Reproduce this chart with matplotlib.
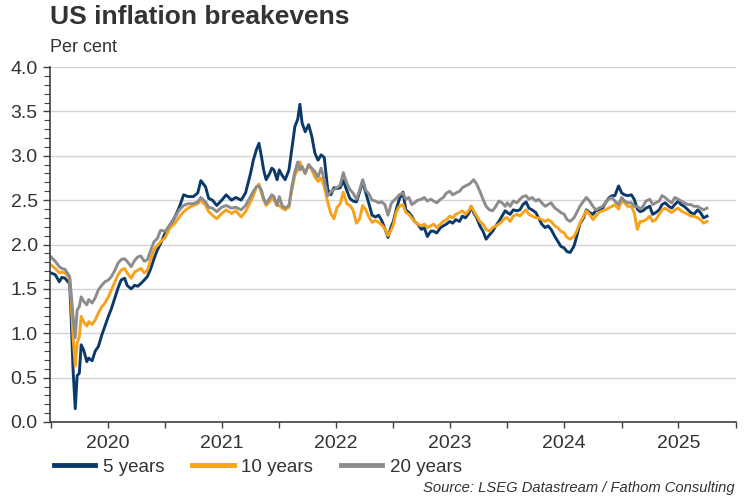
import matplotlib
matplotlib.use("Agg")
import matplotlib.pyplot as plt
from matplotlib.ticker import MultipleLocator, NullFormatter, FixedLocator, FixedFormatter, FormatStrFormatter
import matplotlib.dates as mdates
import pandas as pd

plt.rcParams['font.family'] = ['Liberation Sans', 'DejaVu Sans']

dates_2020 = ["2020-01-01", "2020-01-15", "2020-01-28", "2020-02-05", "2020-02-15", "2020-03-01",
              "2020-03-05", "2020-03-12", "2020-03-19", "2020-03-25", "2020-04-01", "2020-04-07",
              "2020-04-15", "2020-04-25", "2020-05-01", "2020-05-12", "2020-05-22", "2020-06-01",
              "2020-06-12", "2020-06-22", "2020-07-03", "2020-07-13", "2020-07-24", "2020-08-03",
              "2020-08-13", "2020-08-24", "2020-09-01", "2020-09-14", "2020-09-25", "2020-10-05",
              "2020-10-15", "2020-10-26", "2020-11-05", "2020-11-16", "2020-11-26", "2020-12-07",
              "2020-12-17"]
dates_2021 = ["2021-01-01", "2021-01-15", "2021-02-01", "2021-02-15", "2021-03-01", "2021-03-15",
              "2021-04-01", "2021-04-15", "2021-04-25", "2021-05-10", "2021-05-20", "2021-06-01",
              "2021-06-15", "2021-07-01", "2021-07-15", "2021-08-01", "2021-08-15", "2021-09-01",
              "2021-09-15", "2021-10-01", "2021-10-10", "2021-10-20", "2021-10-28", "2021-11-05",
              "2021-11-12", "2021-11-20", "2021-12-01", "2021-12-08", "2021-12-15", "2021-12-25"]
dates_2022 = ["2022-01-01", "2022-01-10", "2022-01-20", "2022-02-01", "2022-02-10", "2022-02-20",
              "2022-03-01", "2022-03-08", "2022-03-15", "2022-03-25", "2022-04-05", "2022-04-15",
              "2022-04-25", "2022-05-05", "2022-05-15", "2022-05-25", "2022-06-05", "2022-06-15",
              "2022-06-25", "2022-07-05", "2022-07-15", "2022-07-25", "2022-08-05", "2022-08-15",
              "2022-08-25", "2022-09-05", "2022-09-15", "2022-09-25", "2022-10-05", "2022-10-15",
              "2022-10-25", "2022-11-05", "2022-11-15", "2022-11-25", "2022-12-05", "2022-12-15",
              "2022-12-25"]
dates_2023 = ["2023-01-01", "2023-01-10", "2023-01-20", "2023-02-01", "2023-02-10", "2023-02-20",
              "2023-03-01", "2023-03-10", "2023-03-20", "2023-04-01", "2023-04-10", "2023-04-20",
              "2023-05-01", "2023-05-10", "2023-05-20", "2023-06-01", "2023-06-10", "2023-06-20",
              "2023-07-01", "2023-07-10", "2023-07-20", "2023-08-01", "2023-08-10", "2023-08-20",
              "2023-09-01", "2023-09-07", "2023-09-15", "2023-09-25", "2023-10-05", "2023-10-15",
              "2023-10-25", "2023-11-05", "2023-11-15", "2023-11-25", "2023-12-05", "2023-12-15",
              "2023-12-25"]
dates_2024 = ["2024-01-01", "2024-01-10", "2024-01-20", "2024-02-01", "2024-02-10", "2024-02-20",
              "2024-03-01", "2024-03-10", "2024-03-20", "2024-04-01", "2024-04-10", "2024-04-20",
              "2024-05-01", "2024-05-10", "2024-05-20", "2024-06-01", "2024-06-10", "2024-06-20",
              "2024-07-01", "2024-07-10", "2024-07-20", "2024-08-01", "2024-08-10", "2024-08-20",
              "2024-09-01", "2024-09-10", "2024-09-20", "2024-10-01", "2024-10-10", "2024-10-20",
              "2024-11-01", "2024-11-10", "2024-11-20", "2024-12-01", "2024-12-10", "2024-12-22"]
dates_2025 = ["2025-01-01", "2025-01-10", "2025-01-20", "2025-02-01", "2025-02-10", "2025-02-20",
              "2025-03-01", "2025-03-10", "2025-03-20", "2025-04-01", "2025-04-10", "2025-04-20",
              "2025-05-01", "2025-05-10", "2025-05-20", "2025-06-01", "2025-06-10", "2025-06-20",
              "2025-07-01", "2025-07-10", "2025-07-20", "2025-08-01", "2025-08-10", "2025-08-20",
              "2025-09-01", "2025-09-10", "2025-09-20", "2025-10-01"]

five_years = [
    # 2020
    1.68, 1.66, 1.58, 1.63, 1.62, 1.56, 1.26, 0.59, 0.15, 0.52,
    0.55, 0.87, 0.81, 0.68, 0.72, 0.69, 0.80, 0.85, 0.98, 1.08,
    1.19, 1.28, 1.40, 1.51, 1.60, 1.62, 1.54, 1.50, 1.54, 1.53,
    1.56, 1.60, 1.64, 1.73, 1.84, 1.94, 2.01,
    # 2021
    2.13, 2.20, 2.31, 2.42, 2.56, 2.54, 2.54, 2.58, 2.72, 2.65,
    2.52, 2.50, 2.44, 2.50, 2.56, 2.50, 2.53, 2.50, 2.58, 2.80,
    2.95, 3.07, 3.14, 2.99, 2.84, 2.73, 2.80, 2.86, 2.84, 2.73,
    # 2022
    2.84, 2.78, 2.73, 2.84, 3.07, 3.33, 3.41, 3.58, 3.37, 3.27,
    3.35, 3.22, 3.03, 2.95, 3.01, 2.98, 2.62, 2.56, 2.64, 2.63,
    2.64, 2.72, 2.61, 2.52, 2.49, 2.48, 2.59, 2.71, 2.58, 2.46,
    2.33, 2.31, 2.33, 2.27, 2.18, 2.08, 2.20,
    # 2023
    2.26, 2.39, 2.51, 2.59, 2.39, 2.36, 2.32, 2.26, 2.23, 2.17,
    2.19, 2.09, 2.15, 2.15, 2.13, 2.19, 2.21, 2.23, 2.26, 2.24,
    2.28, 2.26, 2.32, 2.30, 2.36, 2.43, 2.36, 2.30, 2.21, 2.15,
    2.06, 2.11, 2.15, 2.21, 2.26, 2.32, 2.38,
    # 2024
    2.36, 2.34, 2.39, 2.38, 2.39, 2.45, 2.48, 2.41, 2.39, 2.36,
    2.30, 2.23, 2.19, 2.21, 2.17, 2.09, 2.04, 1.98, 1.96, 1.92,
    1.91, 1.98, 2.09, 2.23, 2.30, 2.39, 2.36, 2.34, 2.38, 2.39,
    2.41, 2.47, 2.52, 2.55, 2.55, 2.66,
    # 2025
    2.58, 2.56, 2.55, 2.56, 2.51, 2.40, 2.37, 2.38, 2.41, 2.43,
    2.34, 2.36, 2.39, 2.45, 2.47, 2.43, 2.41, 2.45, 2.49, 2.45,
    2.43, 2.39, 2.36, 2.34, 2.39, 2.36, 2.30, 2.32,
]

ten_years = [
    # 2020
    1.77, 1.73, 1.68, 1.69, 1.68, 1.62, 1.41, 0.96, 0.63, 0.89,
    0.96, 1.19, 1.13, 1.08, 1.13, 1.10, 1.15, 1.23, 1.30, 1.34,
    1.41, 1.49, 1.58, 1.66, 1.71, 1.73, 1.68, 1.62, 1.69, 1.71,
    1.73, 1.68, 1.71, 1.84, 1.94, 1.99, 2.03,
    # 2021
    2.08, 2.18, 2.24, 2.31, 2.37, 2.41, 2.44, 2.46, 2.50, 2.44,
    2.37, 2.33, 2.29, 2.35, 2.39, 2.35, 2.38, 2.31, 2.37, 2.48,
    2.55, 2.65, 2.68, 2.58, 2.50, 2.44, 2.48, 2.52, 2.50, 2.44,
    # 2022
    2.44, 2.41, 2.39, 2.42, 2.61, 2.78, 2.84, 2.93, 2.86, 2.80,
    2.90, 2.84, 2.76, 2.71, 2.75, 2.65, 2.48, 2.35, 2.29, 2.42,
    2.46, 2.59, 2.46, 2.44, 2.39, 2.24, 2.29, 2.44, 2.39, 2.31,
    2.25, 2.27, 2.25, 2.22, 2.18, 2.10, 2.16,
    # 2023
    2.22, 2.36, 2.43, 2.45, 2.36, 2.34, 2.30, 2.26, 2.23, 2.21,
    2.23, 2.19, 2.21, 2.23, 2.19, 2.23, 2.26, 2.28, 2.32, 2.30,
    2.34, 2.36, 2.38, 2.34, 2.39, 2.43, 2.38, 2.32, 2.26, 2.23,
    2.17, 2.15, 2.19, 2.21, 2.23, 2.26, 2.30,
    # 2024
    2.30, 2.26, 2.32, 2.34, 2.32, 2.36, 2.39, 2.34, 2.32, 2.30,
    2.30, 2.28, 2.26, 2.28, 2.26, 2.21, 2.19, 2.15, 2.13, 2.08,
    2.06, 2.09, 2.15, 2.24, 2.32, 2.38, 2.34, 2.28, 2.32, 2.36,
    2.38, 2.39, 2.41, 2.43, 2.45, 2.40,
    # 2025
    2.49, 2.47, 2.43, 2.43, 2.36, 2.17, 2.26, 2.26, 2.28, 2.32,
    2.26, 2.28, 2.34, 2.39, 2.41, 2.38, 2.36, 2.39, 2.41, 2.38,
    2.36, 2.34, 2.32, 2.32, 2.30, 2.28, 2.24, 2.26,
]

twenty_years = [
    # 2020
    1.86, 1.81, 1.75, 1.73, 1.72, 1.64, 1.49, 1.19, 0.95, 1.26,
    1.30, 1.41, 1.36, 1.32, 1.38, 1.34, 1.40, 1.49, 1.54, 1.58,
    1.60, 1.64, 1.71, 1.79, 1.83, 1.84, 1.81, 1.75, 1.82, 1.86,
    1.87, 1.81, 1.83, 1.94, 2.03, 2.07, 2.16,
    # 2021
    2.15, 2.22, 2.31, 2.39, 2.44, 2.46, 2.46, 2.48, 2.53, 2.48,
    2.42, 2.41, 2.37, 2.42, 2.44, 2.41, 2.42, 2.39, 2.44, 2.54,
    2.60, 2.65, 2.66, 2.61, 2.52, 2.46, 2.52, 2.56, 2.54, 2.44,
    # 2022
    2.54, 2.44, 2.41, 2.44, 2.65, 2.82, 2.93, 2.84, 2.88, 2.80,
    2.90, 2.86, 2.82, 2.76, 2.86, 2.73, 2.55, 2.59, 2.62, 2.64,
    2.67, 2.81, 2.69, 2.62, 2.58, 2.51, 2.61, 2.73, 2.61, 2.57,
    2.50, 2.49, 2.47, 2.48, 2.45, 2.33, 2.46,
    # 2023
    2.49, 2.52, 2.56, 2.58, 2.51, 2.53, 2.45, 2.47, 2.50, 2.51,
    2.53, 2.49, 2.51, 2.49, 2.47, 2.51, 2.53, 2.58, 2.60, 2.56,
    2.58, 2.60, 2.64, 2.66, 2.68, 2.70, 2.73, 2.68, 2.60, 2.51,
    2.43, 2.39, 2.38, 2.43, 2.49, 2.47, 2.43,
    # 2024
    2.47, 2.43, 2.49, 2.47, 2.51, 2.54, 2.55, 2.51, 2.53, 2.49,
    2.51, 2.47, 2.43, 2.45, 2.47, 2.41, 2.39, 2.36, 2.34, 2.28,
    2.26, 2.30, 2.36, 2.43, 2.49, 2.53, 2.49, 2.43, 2.39, 2.41,
    2.43, 2.47, 2.51, 2.53, 2.49, 2.45,
    # 2025
    2.53, 2.49, 2.47, 2.47, 2.43, 2.43, 2.40, 2.43, 2.49, 2.51,
    2.45, 2.47, 2.49, 2.55, 2.53, 2.49, 2.47, 2.53, 2.51, 2.49,
    2.47, 2.45, 2.45, 2.43, 2.43, 2.41, 2.39, 2.41,
]

series_labels = ["5 years", "10 years", "20 years"]
year_labels = ["2020", "2021", "2022", "2023", "2024", "2025"]

dates = pd.to_datetime(dates_2020 + dates_2021 + dates_2022 + dates_2023 + dates_2024 + dates_2025)

colors = ["#0B3A6A", "#F7A21B", "#8C8C8C"]
axis_col = "#404040"
text_col = "#333333"

fig = plt.figure(figsize=(7.5, 5), dpi=100)
ax = fig.add_axes([0.067, 0.156, 0.914, 0.710])

for vals, lab, col in zip([five_years, ten_years, twenty_years], series_labels, colors):
    ax.plot(dates, vals, color=col, lw=2.1, label=lab, solid_joinstyle='round')

ax.set_ylim(0, 4.0)
ax.set_xlim(pd.Timestamp("2019-12-30"), pd.Timestamp("2026-01-01"))

ax.yaxis.set_major_locator(MultipleLocator(0.5))
ax.yaxis.set_minor_locator(MultipleLocator(0.1))
ax.yaxis.set_major_formatter(FormatStrFormatter('%.1f'))
ax.grid(axis='y', which='major', color='#D4D4D4', lw=1.0)
ax.set_axisbelow(True)

# x axis: year labels centred mid-year (major, no mark), tick marks every half-year (minor)
mid_years = mdates.date2num(pd.to_datetime([f"{y}-07-01" for y in year_labels]))
half_years = mdates.date2num(pd.to_datetime(
    [f"{y}-{m:02d}-01" for y in range(2020, 2026) for m in (1, 7)] + ["2026-01-01"]))
ax.xaxis.remove_overlapping_locs = False
ax.xaxis.set_major_locator(FixedLocator(mid_years))
ax.xaxis.set_major_formatter(FixedFormatter(year_labels))
ax.xaxis.set_minor_locator(FixedLocator(half_years))
ax.xaxis.set_minor_formatter(NullFormatter())
ax.tick_params(axis='x', which='major', length=0, pad=9, labelsize=14, labelcolor=text_col)
ax.tick_params(axis='x', which='minor', direction='out', length=4, width=1, color=axis_col)
ax.tick_params(axis='y', which='major', direction='out', length=5, width=1, color=axis_col,
               labelsize=14, labelcolor=text_col, pad=4)
ax.tick_params(axis='y', which='minor', direction='out', length=4, width=0.8, color=axis_col)

for s in ['top', 'right']:
    ax.spines[s].set_visible(False)
for s in ['left', 'bottom']:
    ax.spines[s].set_color(axis_col)
    ax.spines[s].set_linewidth(1.2)

fig.text(0.067, 0.965, "US inflation breakevens", fontsize=19, fontweight='bold',
         color=text_col, ha='left', va='center')
fig.text(0.067, 0.905, "Per cent", fontsize=13, color=text_col, ha='left', va='center')

leg = fig.legend(loc='center left', bbox_to_anchor=(0.072, 0.066), ncol=3, frameon=False,
                 fontsize=13.5, handlelength=2.2, handletextpad=0.4, columnspacing=1.5,
                 borderaxespad=0, borderpad=0)
for line in leg.get_lines():
    line.set_linewidth(3.5)
for t in leg.get_texts():
    t.set_color(text_col)

fig.text(0.979, 0.024, "Source: LSEG Datastream / Fathom Consulting", fontsize=10.6,
         style='italic', color=text_col, ha='right', va='center')

fig.savefig("out.png", dpi=100)
